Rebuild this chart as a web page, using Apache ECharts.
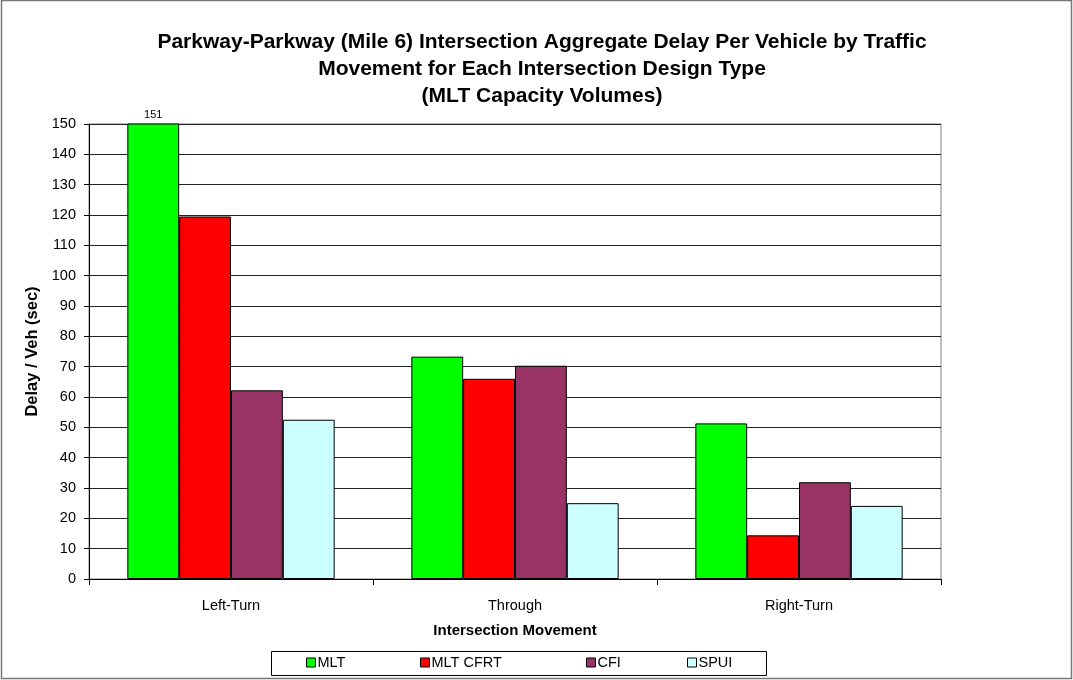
<!DOCTYPE html>
<html><head><meta charset="utf-8">
<script src="https://cdn.jsdelivr.net/npm/echarts@6/dist/echarts.min.js"></script>
<style>html,body{margin:0;padding:0;background:#fff}#c{width:1073px;height:680px}</style>
</head><body><div id="c"></div>
<script>
const categories = ['Left-Turn', 'Through', 'Right-Turn'];
const seriesNames = ['MLT', 'MLT CFRT', 'CFI', 'SPUI'];
const mlt = [151, 73.3, 51.3];
const mltCfrt = [119.5, 66.0, 14.4];
const cfi = [62.2, 70.3, 31.9];
const spui = [52.5, 25.0, 24.1];
const yTicks = [0, 150, 10];

const colors = ['#00FF00', '#FF0000', '#993366', '#CCFFFF'];
const values = [mlt, mltCfrt, cfi, spui];
const font = 'Liberation Sans, Arial, sans-serif';

const chart = echarts.init(document.getElementById('c'));
const legendX = [306, 420, 586, 687];
const series = seriesNames.map((n, i) => ({
  name: n, type: 'bar', barGap: '0%', barCategoryGap: '27%',
  itemStyle: {color: colors[i], borderColor: '#000', borderWidth: 1},
  data: values[i].map((v, j) => (i === 0 && j === 0) ? {value: v, label: {show: true, position: 'top', distance: 3, color: '#000', fontSize: 11, fontFamily: font}} : v),
  clip: true
}));
chart.setOption({
  animation: false,
  backgroundColor: '#fff',
  title: {
    text: 'Parkway-Parkway (Mile 6) Intersection Aggregate Delay Per Vehicle by Traffic\nMovement for Each Intersection Design Type\n(MLT Capacity Volumes)',
    left: 537, top: 24, textAlign: 'center',
    textStyle: {fontFamily: font, fontSize: 21, fontWeight: 'bold', color: '#000', lineHeight: 27}
  },
  legend: seriesNames.map((n, i) => ({
    data: [n], left: legendX[i], top: 655, itemWidth: 9, itemHeight: 9, itemGap: 0, padding: 0,
    icon: 'rect',
    textStyle: {fontFamily: font, fontSize: 14.5, color: '#000', padding: [0, 0, 0, -3]},
    itemStyle: {borderColor: '#000', borderWidth: 1}
  })),
  grid: {left: 89, top: 124, width: 852, height: 455, show: true, borderColor: '#808080', borderWidth: 1, backgroundColor: '#fff'},
  xAxis: {
    type: 'category', data: categories,
    name: 'Intersection Movement', nameLocation: 'middle', nameGap: 44,
    nameTextStyle: {fontFamily: font, fontSize: 15, fontWeight: 'bold', color: '#000'},
    axisLine: {lineStyle: {color: '#000', width: 1}},
    axisTick: {show: true, length: 6, lineStyle: {color: '#000'}},
    axisLabel: {fontFamily: font, fontSize: 14.5, color: '#000', margin: 19}
  },
  yAxis: {
    type: 'value', min: yTicks[0], max: yTicks[1], interval: yTicks[2],
    name: 'Delay / Veh (sec)', nameLocation: 'middle', nameGap: 46, nameRotate: 90,
    nameTextStyle: {fontFamily: font, fontSize: 16.5, fontWeight: 'bold', color: '#000'},
    axisLine: {show: true, lineStyle: {color: '#000', width: 1}},
    axisTick: {show: true, length: 5, lineStyle: {color: '#000'}},
    axisLabel: {fontFamily: font, fontSize: 14.5, color: '#000', margin: 13},
    splitLine: {show: true, lineStyle: {color: '#222', width: 1}}
  },
  series: series,
  graphic: [
    {type: 'rect', shape: {x: 1.5, y: 0.5, width: 1070, height: 678}, style: {fill: 'none', stroke: '#777', lineWidth: 1.5}, z: 100},
    {type: 'rect', shape: {x: 271.5, y: 651.5, width: 495, height: 24}, style: {fill: 'none', stroke: '#000', lineWidth: 1}, z: 100}
  ]
});
</script></body></html>
